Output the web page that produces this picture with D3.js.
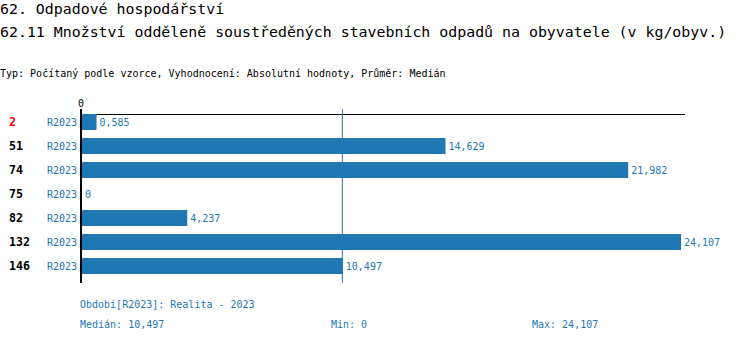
<!DOCTYPE html>
<html>
<head>
<meta charset="utf-8">
<script src="https://cdn.jsdelivr.net/npm/d3@7"></script>
<style>
  html, body { margin: 0; padding: 0; background: #fff; }
  svg { display: block; font-family: "DejaVu Sans Mono", "Liberation Mono", monospace; }
</style>
</head>
<body>
<svg id="chart" width="750" height="342"></svg>
<script>
// Municipality codes, period labels and values (kg per inhabitant)
const codes = ["2", "51", "74", "75", "82", "132", "146"];
const periods = ["R2023", "R2023", "R2023", "R2023", "R2023", "R2023", "R2023"];
const values = [0.585, 14.629, 21.982, 0, 4.237, 24.107, 10.497];
const highlighted = ["2"];
const xTicks = [0];

const title1 = "62. Odpadové hospodářství";
const title2 = "62.11 Množství odděleně soustředěných stavebních odpadů na obyvatele (v kg/obyv.)";
const subtitle = "Typ: Počítaný podle vzorce, Vyhodnocení: Absolutní hodnoty, Průměr: Medián";
const periodNote = "Období[R2023]: Realita - 2023";

const fmt = v => d3.format(",.3~f")(v).replace(".", ",");
const median = d3.median(values);
const minV = d3.min(values);
const maxV = d3.max(values);

const blue = "#1f77b4";
const svg = d3.select("#chart");

svg.append("text").attr("x", 0).attr("y", 14).attr("font-size", 14.9).attr("fill", "#000").text(title1);
svg.append("text").attr("x", 0).attr("y", 37).attr("font-size", 14.9).attr("fill", "#000").text(title2);
svg.append("text").attr("x", 0).attr("y", 77).attr("font-size", 10).attr("fill", "#000").text(subtitle);

const x = d3.scaleLinear().domain([0, maxV]).range([82, 681]);
const y = d3.scaleBand().domain(d3.range(codes.length)).range([114, 274])
  .paddingInner(1 / 3).paddingOuter(0).align(0);

// top axis line with tick label
svg.append("line").attr("x1", 81).attr("x2", 685).attr("y1", 114.5).attr("y2", 114.5)
  .attr("stroke", "#000").attr("stroke-width", 1);
svg.selectAll("text.tick").data(xTicks).join("text").attr("class", "tick")
  .attr("x", d => x(d) - 1).attr("y", 106.5).attr("text-anchor", "middle")
  .attr("font-size", 10).attr("fill", "#000").text(d => d);

// median reference line
svg.append("line").attr("x1", x(median) - 0.5).attr("x2", x(median) - 0.5)
  .attr("y1", 109).attr("y2", 283).attr("stroke", "#2f6d9c").attr("stroke-width", 1);

// bars
svg.selectAll("rect.bar").data(values).join("rect").attr("class", "bar")
  .attr("x", x(0)).attr("y", (d, i) => y(i))
  .attr("width", d => x(d) - x(0)).attr("height", y.bandwidth())
  .attr("fill", blue);

// value labels
svg.selectAll("text.val").data(values).join("text").attr("class", "val")
  .attr("x", d => x(d) + 3).attr("y", (d, i) => y(i) + y.bandwidth() / 2 + 4)
  .attr("font-size", 10).attr("fill", blue).text(d => fmt(d));

// row labels
svg.selectAll("text.code").data(codes).join("text").attr("class", "code")
  .attr("x", 9).attr("y", (d, i) => y(i) + y.bandwidth() / 2 + 4)
  .attr("font-size", 11.6).attr("font-weight", "bold")
  .attr("fill", d => highlighted.includes(d) ? "#f00" : "#000").text(d => d);
svg.selectAll("text.period").data(periods).join("text").attr("class", "period")
  .attr("x", 77).attr("y", (d, i) => y(i) + y.bandwidth() / 2 + 4).attr("text-anchor", "end")
  .attr("font-size", 10).attr("fill", blue).text(d => d);

// vertical axis line
svg.append("line").attr("x1", 81).attr("x2", 81).attr("y1", 109).attr("y2", 283)
  .attr("stroke", "#000").attr("stroke-width", 2);

// footer
svg.append("text").attr("x", 80).attr("y", 308).attr("font-size", 10).attr("fill", blue).text(periodNote);
svg.append("text").attr("x", 80).attr("y", 328).attr("font-size", 10).attr("fill", blue).text("Medián: " + fmt(median));
svg.append("text").attr("x", 331).attr("y", 328).attr("font-size", 10).attr("fill", blue).text("Min: " + fmt(minV));
svg.append("text").attr("x", 532).attr("y", 328).attr("font-size", 10).attr("fill", blue).text("Max: " + fmt(maxV));
</script>
</body>
</html>
